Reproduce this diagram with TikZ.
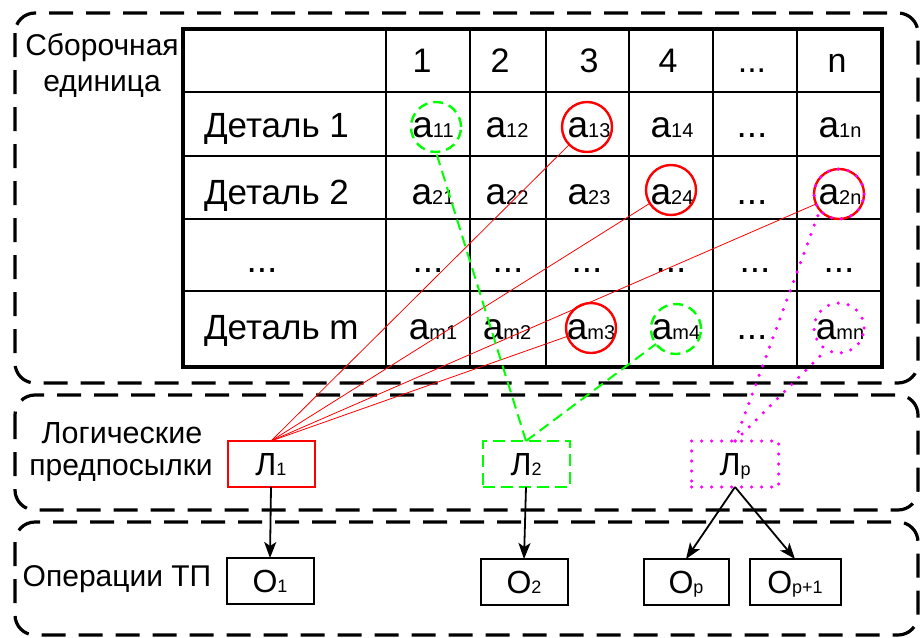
\documentclass[tikz,border=0pt]{standalone}
\usepackage{fontspec}
\setmainfont{Liberation Sans}
\usetikzlibrary{arrows.meta}
\definecolor{lgreen}{RGB}{0,255,0}
\definecolor{lmagenta}{RGB}{255,0,255}
\newcommand{\idx}[1]{{\fontsize{20}{20}\selectfont #1}}
\newcommand{\sidx}[1]{{\fontsize{18}{18}\selectfont #1}}
\newcommand{\etc}{...}

\begin{document}
\begin{tikzpicture}[x=1pt, y=-1pt,
	every node/.style={inner sep=0pt, outer sep=0pt},
	>={Stealth[length=16pt, width=12pt, inset=4pt]},
	zone/.style={draw, line width=3.2pt, dash pattern=on 24pt off 13pt, rounded corners=20pt},
	cell/.style={anchor=base, font=\fontsize{37}{37}\selectfont},
	head/.style={anchor=base, font=\fontsize{34}{34}\selectfont},
	part/.style={anchor=base west, font=\fontsize{35}{35}\selectfont},
	ring/.style={circle, minimum size=50pt, line width=2.4pt},
	pbox/.style={rectangle, minimum width=87pt, minimum height=46pt, line width=2pt, text height=23pt, text depth=0pt, font=\fontsize{32}{32}\selectfont},
	caption/.style={align=center}]
	\useasboundingbox (0,0) rectangle (920,637);
	% zones
	\draw[zone] (15,13) rectangle (918,383);
	\draw[zone] (15,395) rectangle (918,510);
	\draw[zone] (15,522) rectangle (918,635);
	\node[caption, font=\fontsize{30}{36}\selectfont] (Sborka) at (102,65) {Сборочная\\единица};
	\node[anchor=base, font=\fontsize{30.5}{30.5}\selectfont] (Logika1) at (122,443) {Логические};
	\node[anchor=base, font=\fontsize{30}{30}\selectfont] (Logika2) at (121,475) {предпосылки};
	\node[anchor=base, font=\fontsize{30}{30}\selectfont] (Operacii) at (117,586) {Операции ТП};
	% table
	\foreach \x in {386,470,546,629,713,797}
		\draw[line width=2.2pt] (\x,29) -- (\x,367);
	\foreach \y in {92,156,219,291}
		\draw[line width=2.2pt] (183,\y) -- (882,\y);
	\draw[line width=3.5pt] (183,29) rectangle (882,367);
	\foreach \x/\t [count=\j] in {422/1,500/2,589/3,668/4,752/\etc,837/n}
		\node[head] (h-\j) at (\x,72) {\t};
	\node[part] (d1) at (204,137) {Деталь 1};
	\node[part] (d2) at (204,204) {Деталь 2};
	\node[cell] (d3) at (262,272) {\etc};
	\node[part] (dm) at (204,339) {Деталь m};
	\foreach \x/\t [count=\j] in {433/a\idx{11},507/a\idx{12},589/a\idx{13},672/a\idx{14},752/\etc,840/a\idx{1n}}
		\node[cell] (c1-\j) at (\x,137) {\t};
	\foreach \x/\t [count=\j] in {433/a\idx{21},507/a\idx{22},589/a\idx{23},672/a\idx{24},752/\etc,840/a\idx{2n}}
		\node[cell] (c2-\j) at (\x,204) {\t};
	\foreach \x [count=\j] in {428,508,587,671,755,839}
		\node[cell] (c3-\j) at (\x,272) {\etc};
	\foreach \x/\t [count=\j] in {433/a\idx{m1},507/a\idx{m2},591/a\idx{m3},676/a\idx{m4},752/\etc,840/a\idx{mn}}
		\node[cell] (c4-\j) at (\x,339) {\t};
	% marked cells
	\node[ring, draw=lgreen, dash pattern=on 10pt off 6pt] (g11) at (436,127) {};
	\node[ring, draw=red] (r13) at (587,127) {};
	\node[ring, draw=red] (r24) at (671,190) {};
	\node[ring, draw=red] (r2n) at (839,194) {};
	\node[ring, draw=red] (rm3) at (591,328) {};
	\node[ring, draw=lgreen, dash pattern=on 10pt off 6pt] (gm4) at (676,329) {};
	\node[ring, draw=lmagenta, line width=3.5pt, dash pattern=on 0pt off 10pt, line cap=round] (m2n) at (839,194) {};
	\node[ring, draw=lmagenta, line width=3.5pt, dash pattern=on 0pt off 10pt, line cap=round] (mmn) at (839,328) {};
	% premises and operations
	\node[pbox, draw=red] (L1) at (271,464) {Л\sidx{1}};
	\node[pbox, draw=lgreen, dash pattern=on 12pt off 6pt] (L2) at (526,464) {Л\sidx{2}};
	\node[pbox, draw=lmagenta, line width=3.5pt, dash pattern=on 0pt off 10pt, line cap=round] (Lp) at (735,464) {Л\sidx{p}};
	\node[pbox, draw=black] (O1) at (270,581) {O\sidx{1}};
	\node[pbox, draw=black] (O2) at (524,582) {O\sidx{2}};
	\node[pbox, draw=black, minimum width=85pt] (Op) at (686,582) {O\sidx{p}};
	\node[pbox, draw=black, minimum width=91pt] (Op1) at (795,582) {O\sidx{p+1}};
	% links
	\draw[red, line width=0.8pt] (L1.north) -- (r13);
	\draw[red, line width=0.8pt] (L1.north) -- (r24);
	\draw[red, line width=0.8pt] (L1.north) -- (r2n);
	\draw[red, line width=0.8pt] (L1.north) -- (rm3);
	\draw[lgreen, line width=2pt, dash pattern=on 11pt off 6pt] (L2.north) -- (g11.south);
	\draw[lgreen, line width=2pt, dash pattern=on 11pt off 6pt] (L2.north) -- (gm4);
	\draw[lmagenta, line width=3.5pt, dash pattern=on 0pt off 10pt, line cap=round] (Lp.north) -- (m2n.220);
	\draw[lmagenta, line width=3.5pt, dash pattern=on 0pt off 10pt, line cap=round] (Lp.north) -- (mmn.240);
	\draw[->, line width=1.8pt] (L1.south) -- (O1.north);
	\draw[->, line width=1.8pt] (L2.south) -- (O2.north);
	\draw[->, line width=1.8pt] (Lp.south) -- (Op.north);
	\draw[->, line width=1.8pt] (Lp.south) -- (Op1.north);
\end{tikzpicture}
\end{document}
